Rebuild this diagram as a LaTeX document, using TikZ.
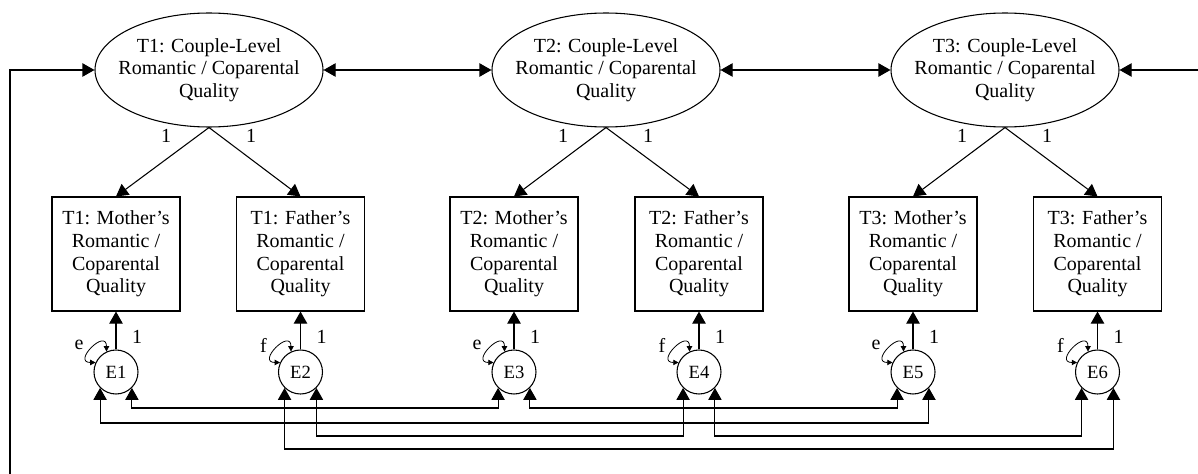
\documentclass[tikz,border=0pt]{standalone}
\usepackage{fontspec}
\setmainfont{Liberation Serif}
\usetikzlibrary{arrows.meta,shapes.geometric,calc}

\begin{document}
\begin{tikzpicture}[x=0.75pt,y=-0.75pt,
  every node/.style={font=\fontsize{15}{16.9}\selectfont},
  latent/.style={draw,ellipse,line width=0.8pt,minimum width=171pt,minimum height=85.5pt,inner xsep=-12pt,inner ysep=0pt,align=center},
  indicator/.style={draw,rectangle,line width=0.8pt,minimum width=96pt,minimum height=85.5pt,inner sep=0pt,align=center},
  resid/.style={draw,circle,line width=0.8pt,minimum size=33pt,inner sep=0pt,font=\fontsize{14}{16}\selectfont},
  wire/.style={line width=0.8pt},
  arr/.style={wire,-{Triangle[length=9pt,width=10pt]}},
  dbl/.style={wire,{Triangle[length=9pt,width=10pt]}-{Triangle[length=9pt,width=10pt]}},
  varloop/.style={line width=0.6pt,{Triangle[length=4pt,width=4pt]}-{Triangle[length=4pt,width=4pt]}},
  lbl/.style={inner sep=0pt}
]
\useasboundingbox (0,0) rectangle (1198,474);

% couple-level latent factors
\node[latent] (T1) at (209,70) {T1: Couple-Level\\Romantic / Coparental\\Quality};
\node[latent] (T2) at (606,70) {T2: Couple-Level\\Romantic / Coparental\\Quality};
\node[latent] (T3) at (1005,70) {T3: Couple-Level\\Romantic / Coparental\\Quality};

% parent reports
\node[indicator] (M1) at (116,254) {T1: Mother’s\\Romantic /\\Coparental\\Quality};
\node[indicator] (F1) at (300.5,254) {T1: Father’s\\Romantic /\\Coparental\\Quality};
\node[indicator] (M2) at (514,254) {T2: Mother’s\\Romantic /\\Coparental\\Quality};
\node[indicator] (F2) at (699,254) {T2: Father’s\\Romantic /\\Coparental\\Quality};
\node[indicator] (M3) at (913,254) {T3: Mother’s\\Romantic /\\Coparental\\Quality};
\node[indicator] (F3) at (1097.5,254) {T3: Father’s\\Romantic /\\Coparental\\Quality};

% residuals
\node[resid] (E1) at (116,372) {E1};
\node[resid] (E2) at (300.5,372) {E2};
\node[resid] (E3) at (514,372) {E3};
\node[resid] (E4) at (699,372) {E4};
\node[resid] (E5) at (913,372) {E5};
\node[resid] (E6) at (1097.5,372) {E6};

% covariances between time points
\draw[dbl] (T1.east) -- (T2.west);
\draw[dbl] (T2.east) -- (T3.west);
\coordinate (wrapL) at (10,474);
\coordinate (wrapR) at (1198,70);
\draw[arr] (wrapL) |- (T1.west);
\draw[arr] (wrapR) -- (T3.east);

% fixed loadings
\foreach \t/\m/\f in {T1/M1/F1,T2/M2/F2,T3/M3/F3}{
  \draw[arr] (\t.south) -- (\m.north);
  \draw[arr] (\t.south) -- (\f.north);
  \node[lbl] at ($(\t.south)+(-43,8)$) {1};
  \node[lbl] at ($(\t.south)+(42,8)$) {1};
}

% residual paths and variances
\foreach \e/\i/\v in {E1/M1/e,E2/F1/f,E3/M2/e,E4/F2/f,E5/M3/e,E6/F3/f}{
  \draw[arr] (\e) -- (\i);
  \node[lbl] at ($(\e.center)+(21,-35)$) {1};
  \draw[varloop] (\e.155) .. controls ($(\e.155)+(-24,0)$) and ($(\e.115)+(0,-24)$) .. (\e.115);
  \node[lbl] at ($(\e.center)+(-37,-27)$) {\v};
}

% residual covariances
\coordinate (yA) at (0,408);
\coordinate (yB) at (0,423);
\coordinate (yC) at (0,436);
\coordinate (yD) at (0,449);
\draw[dbl] (E1.-45) -- (E1.-45 |- yA) -- (E3.-135 |- yA) -- (E3.-135);
\draw[dbl] (E3.-45) -- (E3.-45 |- yA) -- (E5.-135 |- yA) -- (E5.-135);
\draw[dbl] (E1.-135) -- (E1.-135 |- yB) -- (E5.-45 |- yB) -- (E5.-45);
\draw[dbl] (E2.-45) -- (E2.-45 |- yC) -- (E4.-135 |- yC) -- (E4.-135);
\draw[dbl] (E4.-45) -- (E4.-45 |- yC) -- (E6.-135 |- yC) -- (E6.-135);
\draw[dbl] (E2.-135) -- (E2.-135 |- yD) -- (E6.-45 |- yD) -- (E6.-45);
\end{tikzpicture}
\end{document}
